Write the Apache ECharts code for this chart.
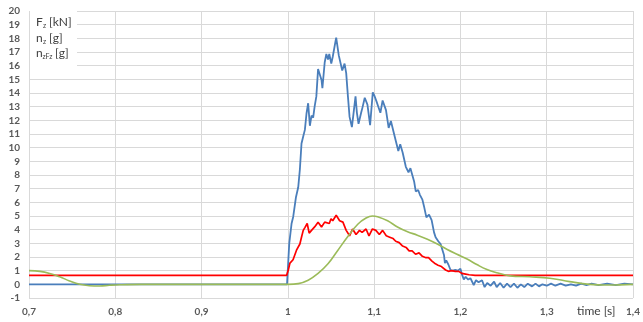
<!DOCTYPE html>
<html>
<head>
<meta charset="utf-8">
<title>Fz nz nzFz</title>
<script src="https://cdn.jsdelivr.net/npm/echarts@6/dist/echarts.min.js"></script>
<style>
  html, body { margin: 0; padding: 0; background: #fff; }
  #chart { width: 643px; height: 322px; }
</style>
</head>
<body>
<div id="chart"></div>
<script>
// F_z [kN] - blue
var fzTime = [0.70, 0.999, 1.0016, 1.0043, 1.0062, 1.0093, 1.012, 1.0139, 1.0158, 1.0177, 1.0197, 1.0216, 1.0235, 1.0255, 1.0274, 1.0293, 1.031, 1.033, 1.035, 1.037, 1.039, 1.040, 1.0427, 1.0446, 1.0465, 1.048, 1.0503, 1.052, 1.0554, 1.056, 1.059, 1.063, 1.0657, 1.0676, 1.0696, 1.0715, 1.0742, 1.076, 1.0784, 1.080, 1.0819, 1.0849, 1.0865, 1.0891, 1.0922, 1.0953, 1.0984, 1.100, 1.1029, 1.1045, 1.1072, 1.1098, 1.1114, 1.1137, 1.1168, 1.1194, 1.1233, 1.1252, 1.128, 1.1302, 1.133, 1.1367, 1.1398, 1.142, 1.1464, 1.1482, 1.151, 1.153, 1.1559, 1.1578, 1.1605, 1.1636, 1.1666, 1.1694, 1.1712, 1.1743, 1.177, 1.1809, 1.182, 1.1835, 1.186, 1.1885, 1.191, 1.194, 1.197, 1.200, 1.2016, 1.2039, 1.206, 1.209, 1.2115, 1.2154, 1.218, 1.221, 1.225, 1.228, 1.231, 1.235, 1.239, 1.242, 1.246, 1.25, 1.254, 1.258, 1.262, 1.266, 1.27, 1.274, 1.278, 1.283, 1.287, 1.291, 1.295, 1.30, 1.305, 1.31, 1.316, 1.322, 1.328, 1.334, 1.34, 1.346, 1.352, 1.36, 1.37, 1.38, 1.39, 1.40];
var fzValues = [0, 0, 3.0, 4.45, 4.95, 6.35, 7.1, 8.4, 10.3, 10.8, 11.3, 12.5, 13.25, 11.6, 12.35, 12.2, 13.0, 13.75, 15.75, 15.85, 14.95, 14.35, 16.25, 16.85, 16.45, 16.85, 16.15, 16.65, 17.85, 18.05, 16.75, 15.65, 16.15, 15.45, 13.75, 12.25, 11.5, 12.45, 13.75, 12.55, 11.75, 12.55, 12.95, 13.65, 13.15, 11.65, 14.05, 13.85, 13.35, 13.05, 12.55, 13.45, 13.35, 12.75, 11.45, 11.95, 10.95, 11.05, 9.75, 10.25, 9.65, 8.6, 8.2, 8.5, 7.5, 6.8, 6.9, 6.55, 6.2, 5.7, 4.9, 5.1, 4.7, 3.8, 3.45, 3.15, 2.95, 2.15, 1.55, 1.75, 1.45, 1.05, 1.0, 1.05, 1.0, 1.15, 0.75, 0.35, 0.55, 0.35, 0.45, -0.05, 0.3, 0.15, 0.3, -0.2, 0.1, -0.1, 0.2, -0.2, 0.1, -0.25, 0.05, -0.2, 0.05, -0.25, 0.0, -0.2, 0.05, -0.15, 0.05, -0.15, 0.0, -0.1, 0.05, -0.1, 0.05, -0.1, 0.0, -0.1, 0.05, -0.05, 0.05, -0.05, 0.05, -0.05, 0.05, 0.0];

// n_z [g] - red
var nzTime = [0.70, 0.9985, 1.0005, 1.0024, 1.006, 1.010, 1.0139, 1.0158, 1.0178, 1.0197, 1.0224, 1.0247, 1.0274, 1.031, 1.035, 1.039, 1.0427, 1.045, 1.048, 1.050, 1.052, 1.056, 1.060, 1.0638, 1.0676, 1.0715, 1.075, 1.079, 1.083, 1.086, 1.0906, 1.094, 1.098, 1.102, 1.106, 1.1098, 1.114, 1.118, 1.122, 1.125, 1.129, 1.133, 1.137, 1.1405, 1.144, 1.148, 1.152, 1.1559, 1.160, 1.163, 1.167, 1.171, 1.174, 1.178, 1.1828, 1.186, 1.190, 1.194, 1.198, 1.2016, 1.206, 1.210, 1.217, 1.40];
var nzValues = [0.65, 0.65, 1.05, 1.55, 1.8, 2.5, 2.95, 3.45, 3.95, 4.15, 4.45, 3.75, 3.95, 4.2, 4.55, 4.2, 4.55, 4.65, 4.45, 4.8, 4.65, 5.05, 4.65, 4.55, 3.95, 3.55, 4.05, 3.65, 3.95, 3.8, 4.05, 3.55, 4.05, 3.95, 3.65, 3.95, 3.55, 3.45, 3.35, 3.15, 3.05, 2.8, 2.7, 2.45, 2.45, 2.2, 2.3, 2.05, 1.95, 1.95, 1.7, 1.5, 1.4, 1.3, 1.05, 0.95, 1.0, 0.95, 0.95, 0.8, 0.75, 0.7, 0.65, 0.65];

// n_zFz [g] - green
var nzfzTime = [0.70, 0.7127, 0.724, 0.7357, 0.747, 0.7587, 0.770, 0.782, 0.793, 0.805, 0.83, 1.0, 1.012, 1.0235, 1.035, 1.0465, 1.058, 1.0695, 1.081, 1.0906, 1.098, 1.104, 1.1156, 1.127, 1.1387, 1.150, 1.1617, 1.1732, 1.1847, 1.196, 1.2077, 1.219, 1.23, 1.242, 1.2576, 1.2806, 1.3036, 1.3266, 1.3496, 1.3726, 1.40];
var nzfzValues = [1.0, 0.95, 0.8, 0.55, 0.25, 0.0, -0.1, -0.12, -0.07, -0.03, 0, 0, 0.05, 0.3, 0.8, 1.5, 2.5, 3.5, 4.4, 4.85, 5.0, 4.95, 4.65, 4.2, 3.85, 3.6, 3.3, 2.95, 2.55, 2.2, 1.85, 1.45, 1.1, 0.85, 0.62, 0.55, 0.45, 0.2, 0.0, -0.05, 0];

function pairs(xs, ys) {
  var out = [];
  for (var i = 0; i < xs.length; i++) {
    out.push([xs[i], ys[i]]);
  }
  return out;
}

var labelColor = '#595959';
var textColor = '#404040';
var gridColor = '#d9d9d9';
var labelFont = 'Lato';

var chart = echarts.init(document.getElementById('chart'));

var option = {
  animation: false,
  backgroundColor: '#fff',
  grid: { left: 29, right: 6, top: 11, bottom: 24 },
  xAxis: {
    type: 'value',
    min: 0.7,
    max: 1.4,
    interval: 0.1,
    axisLine: { show: false },
    axisTick: { show: false },
    splitLine: { show: true, lineStyle: { color: gridColor, width: 1 } },
    axisLabel: {
      color: labelColor,
      fontSize: 10,
      fontFamily: labelFont,
      fontWeight: 'bold',
      margin: 9,
      formatter: function (v) {
        var r = Math.round(v * 10) / 10;
        return String(r).replace('.', ',');
      }
    }
  },
  yAxis: {
    type: 'value',
    min: -1,
    max: 20,
    interval: 1,
    axisLine: { show: false },
    axisTick: { show: false },
    splitLine: { show: true, lineStyle: { color: gridColor, width: 1 } },
    axisLabel: {
      color: labelColor,
      fontSize: 10,
      fontFamily: labelFont,
      fontWeight: 'bold',
      margin: 9
    }
  },
  series: [
    {
      name: 'Fz [kN]',
      type: 'line',
      data: pairs(fzTime, fzValues),
      showSymbol: false,
      lineStyle: { color: '#4a7ebb', width: 1.8 },
      itemStyle: { color: '#4a7ebb' },
      z: 2
    },
    {
      name: 'nz [g]',
      type: 'line',
      data: pairs(nzTime, nzValues),
      showSymbol: false,
      lineStyle: { color: '#ff0000', width: 1.7 },
      itemStyle: { color: '#ff0000' },
      z: 3
    },
    {
      name: 'nzFz [g]',
      type: 'line',
      data: pairs(nzfzTime, nzfzValues),
      showSymbol: false,
      smooth: 0.4,
      lineStyle: { color: '#9bbb59', width: 1.6 },
      itemStyle: { color: '#9bbb59' },
      z: 4
    }
  ],
  graphic: [
    // white box behind the units text
    { type: 'rect', left: 30, top: 11, shape: { width: 47, height: 67 }, style: { fill: '#fff' }, z: 10 },
    { type: 'text', x: 36, y: 22.5, style: { text: 'F', fontSize: 12, fontFamily: 'Lato', fill: textColor, verticalAlign: 'middle' }, z: 11 },
    { type: 'text', x: 43, y: 25.5, style: { text: 'z', fontSize: 7, fontFamily: 'Lato', fill: textColor, verticalAlign: 'middle' }, z: 11 },
    { type: 'text', x: 49, y: 22.5, style: { text: '[kN]', fontSize: 12, fontFamily: 'Lato', fill: textColor, verticalAlign: 'middle' }, z: 11 },
    { type: 'text', x: 36, y: 38.5, style: { text: 'n', fontSize: 12, fontFamily: 'Lato', fill: textColor, verticalAlign: 'middle' }, z: 11 },
    { type: 'text', x: 43, y: 41.5, style: { text: 'z', fontSize: 7, fontFamily: 'Lato', fill: textColor, verticalAlign: 'middle' }, z: 11 },
    { type: 'text', x: 49, y: 38.5, style: { text: '[g]', fontSize: 12, fontFamily: 'Lato', fill: textColor, verticalAlign: 'middle' }, z: 11 },
    { type: 'text', x: 36, y: 53.5, style: { text: 'n', fontSize: 12, fontFamily: 'Lato', fill: textColor, verticalAlign: 'middle' }, z: 11 },
    { type: 'text', x: 42.5, y: 56.5, style: { text: 'zFz', fontSize: 7, fontFamily: 'Lato', fill: textColor, verticalAlign: 'middle' }, z: 11 },
    { type: 'text', x: 55, y: 53.5, style: { text: '[g]', fontSize: 12, fontFamily: 'Lato', fill: textColor, verticalAlign: 'middle' }, z: 11 },
    // axis title
    { type: 'text', x: 577, y: 311.5, style: { text: 'time [s]', fontSize: 12, fontFamily: 'Lato', fill: textColor, verticalAlign: 'middle' }, z: 11 }
  ]
};

chart.setOption(option);
</script>
</body>
</html>
